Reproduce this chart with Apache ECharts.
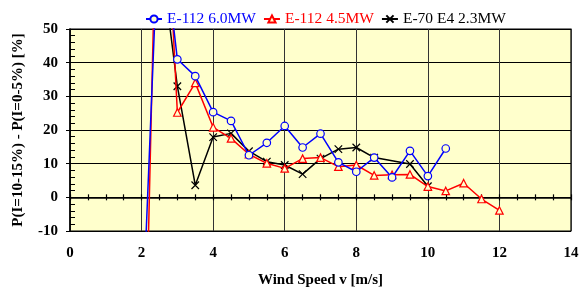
<!DOCTYPE html>
<html>
<head>
<meta charset="utf-8">
<script src="https://cdn.jsdelivr.net/npm/echarts@6/dist/echarts.min.js"></script>
<style>
html,body{margin:0;padding:0;background:#fff;}
#chart{width:587px;height:293px;}
</style>
</head>
<body>
<div id="chart"></div>
<script>
// Wind speed bins [m/s]
const windSpeed = [2.0, 2.5, 3.0, 3.5, 4.0, 4.5, 5.0, 5.5, 6.0, 6.5, 7.0, 7.5, 8.0, 8.5, 9.0, 9.5, 10.0, 10.5, 11.0, 11.5, 12.0];
// P(I=10-15%) - P(I=0-5%) [%]
const e112_60 = [-44, 87, 41, 36, 25.3, 22.7, 12.5, 16.2, 21.2, 14.8, 18.9, 10.4, 7.6, 11.8, 5.9, 13.8, 6.3, 14.5, null, null, null];
const e112_45 = [-100, 130, 25.2, 34.0, 20.8, 17.5, 12.8, 10.1, 8.6, 11.5, 11.8, 9.1, 9.6, 6.5, 6.7, 6.8, 3.2, 1.9, 4.2, -0.5, -3.9];
const e70_23 = [null, 75, 33.0, 3.6, 17.9, 19.0, 13.7, 10.6, 9.6, 6.9, 11.5, 14.3, 14.8, 11.8, null, 9.9, 3.3, null, null, null, null];
const seriesNames = ['E-112 6.0MW', 'E-112 4.5MW', 'E-70 E4 2.3MW'];
const xTicks = [0, 2, 4, 6, 8, 10, 12, 14];
const yTicks = [-10, 0, 10, 20, 30, 40, 50];

function pairs(vals) {
  const out = [];
  for (let i = 0; i < windSpeed.length; i++) {
    if (vals[i] !== null) out.push([windSpeed[i], vals[i]]);
  }
  return out;
}

const FONT = '"Liberation Serif", "Times New Roman", serif';
const colors = ['#0000FF', '#FF0000', '#000000'];
const symbols = ['circle', 'triangle', 'path://M0,0L10,10M10,0L0,10'];

const chart = echarts.init(document.getElementById('chart'), null, {renderer: 'canvas'});

const series = [e112_60, e112_45, e70_23].map((vals, i) => ({
  name: seriesNames[i],
  type: 'line',
  xAxisIndex: 0,
  yAxisIndex: 0,
  data: pairs(vals),
  symbol: symbols[i],
  symbolSize: 7.5,
  showSymbol: true,
  clip: true,
  lineStyle: {color: colors[i], width: 1.5},
  itemStyle: {
    color: i === 2 ? '#000' : '#FFFFCC',
    borderColor: colors[i],
    borderWidth: 1.2
  },
  emphasis: {disabled: true},
  z: 10 - i
}));

const option = {
  animation: false,
  backgroundColor: '#ffffff',
  legend: {
    top: 6,
    left: 140,
    itemWidth: 16,
    itemHeight: 9,
    itemGap: 7,
    textStyle: {fontFamily: FONT, fontSize: 15.5},
    data: seriesNames.map((n, i) => ({name: n, textStyle: {color: colors[i]}}))
  },
  grid: {
    left: 70, right: 16, top: 29, bottom: 60,
    show: true,
    backgroundColor: '#FFFFCC',
    borderColor: '#000',
    borderWidth: 1.2
  },
  xAxis: [
    {
      type: 'value', min: xTicks[0], max: xTicks[xTicks.length - 1], interval: 2,
      position: 'bottom',
      axisLine: {show: false, onZero: false},
      axisTick: {show: false},
      splitLine: {show: true, lineStyle: {color: '#333', width: 1}},
      axisLabel: {fontFamily: FONT, fontSize: 15, fontWeight: 'bold', color: '#000', margin: 15},
      name: 'Wind Speed v [m/s]',
      nameLocation: 'middle',
      nameGap: 42,
      nameTextStyle: {fontFamily: FONT, fontSize: 15, fontWeight: 'bold', color: '#000'}
    },
    {
      type: 'value', min: 0, max: 14, interval: 0.5,
      position: 'bottom',
      axisLine: {show: true, onZero: true, onZeroAxisIndex: 0, lineStyle: {color: '#000', width: 1.5}},
      axisTick: {show: true, length: 3, lineStyle: {color: '#000', width: 1.2}},
      axisLabel: {show: false},
      splitLine: {show: false}
    },
    {
      type: 'value', min: 0, max: 14, interval: 0.5,
      position: 'top',
      axisLine: {show: false, onZero: true, onZeroAxisIndex: 0},
      axisTick: {show: true, length: 3, lineStyle: {color: '#000', width: 1.2}},
      axisLabel: {show: false},
      splitLine: {show: false}
    }
  ],
  yAxis: [
    {
      type: 'value', min: yTicks[0], max: yTicks[yTicks.length - 1], interval: 10,
      position: 'left',
      axisLine: {show: true, onZero: false, lineStyle: {color: '#000', width: 1.5}},
      axisTick: {show: true, inside: true, length: 5, lineStyle: {color: '#000'}},
      minorTick: {show: true, splitNumber: 5, length: 5, lineStyle: {color: '#000'}},
      splitLine: {show: true, lineStyle: {color: '#000', width: 1}},
      axisLabel: {fontFamily: FONT, fontSize: 15, fontWeight: 'bold', color: '#000', margin: 12},
      name: 'P(I=10-15%) - P(I=0-5%) [%]',
      nameLocation: 'middle',
      nameGap: 44,
      nameTextStyle: {fontFamily: FONT, fontSize: 15, fontWeight: 'bold', color: '#000'}
    },
    {
      type: 'value', min: -10, max: 50, interval: 10,
      position: 'left',
      axisLine: {show: false, onZero: false},
      axisTick: {show: true, inside: false, length: 4, lineStyle: {color: '#000'}},
      axisLabel: {show: false},
      splitLine: {show: false}
    }
  ],
  series: series
};
chart.setOption(option);
</script>
</body>
</html>
